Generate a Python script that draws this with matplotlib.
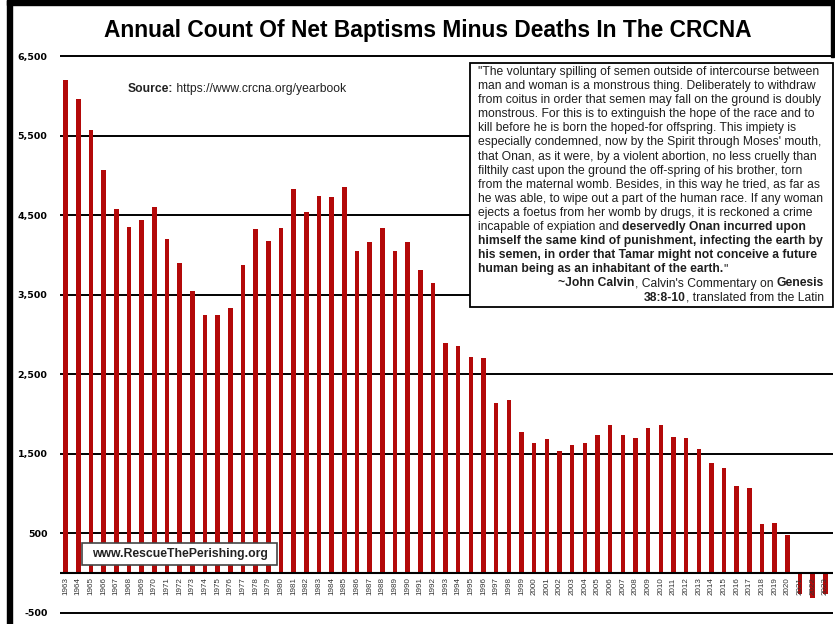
import matplotlib
matplotlib.use("Agg")
import matplotlib.pyplot as plt
from matplotlib.patches import Rectangle

W, H = 835, 624
FONT = ["Liberation Sans", "DejaVu Sans"]

years = list(range(1963, 2024))
net_counts = [
    6200, 5960, 5570, 5070, 4575, 4350, 4440, 4610, 4200, 3895,
    3550, 3245, 3245, 3335, 3875, 4330, 4175, 4345, 4825, 4540,
    4740, 4725, 4860, 4055, 4160, 4345, 4055, 4160, 3810, 3645,
    2895, 2860, 2720, 2700, 2135, 2170, 1775, 1640, 1690, 1535,
    1605, 1640, 1735, 1865, 1735, 1700, 1830, 1865, 1715, 1700,
    1555, 1385, 1325, 1095, 1075, 615, 630, 480, -270, -310, -260,
]

y_ticks = [-500, 500, 1500, 2500, 3500, 4500, 5500, 6500]
y_tick_labels = [f"{v:,}" for v in y_ticks]

TITLE = "Annual Count Of Net Baptisms Minus Deaths In The CRCNA"
SOURCE = [("Source:", True), (" https://www.crcna.org/yearbook", False)]
WEBSITE = "www.RescueThePerishing.org"

# quote, one entry per rendered line: (text, bold) segments
QUOTE_BODY = [
    [('"The voluntary spilling of semen outside of intercourse between', False)],
    [("man and woman is a monstrous thing. Deliberately to withdraw", False)],
    [("from coitus in order that semen may fall on the ground is doubly", False)],
    [("monstrous. For this is to extinguish the hope of the race and to", False)],
    [("kill before he is born the hoped-for offspring. This impiety is", False)],
    [("especially condemned, now by the Spirit through Moses' mouth,", False)],
    [("that Onan, as it were, by a violent abortion, no less cruelly than", False)],
    [("filthily cast upon the ground the off-spring of his brother, torn", False)],
    [("from the maternal womb. Besides, in this way he tried, as far as", False)],
    [("he was able, to wipe out a part of the human race. If any woman", False)],
    [("ejects a foetus from her womb by drugs, it is reckoned a crime", False)],
    [("incapable of expiation and ", False), ("deservedly Onan incurred upon", True)],
    [("himself the same kind of punishment, infecting the earth by", True)],
    [("his semen, in order that Tamar might not conceive a future", True)],
    [("human being as an inhabitant of the earth.", True), ('"', False)],
]
QUOTE_CREDIT = [
    [("~John Calvin", True), (", Calvin's Commentary on ", False), ("Genesis", True)],
    [("38:8-10", True), (", translated from the Latin", False)],
]


def fx(x):
    return x / W


def fy(y):
    return 1 - y / H


def seg_width(fig, rend, s, bold, size):
    kw = dict(fontsize=size, fontweight="bold" if bold else "normal", family=FONT)
    t1 = fig.text(0, 0, "|" + s + "|", **kw)
    t2 = fig.text(0, 0, "||", **kw)
    w = t1.get_window_extent(rend).width - t2.get_window_extent(rend).width
    t1.remove()
    t2.remove()
    return w


def rich_line(fig, rend, x, y, parts, size, color, align="left"):
    if align == "right":
        x -= sum(seg_width(fig, rend, s, b, size) for s, b in parts)
    for s, bold in parts:
        fig.text(fx(x), fy(y), s, ha="left", va="baseline", fontsize=size,
                 fontweight="bold" if bold else "normal", family=FONT,
                 color=color, zorder=6)
        x += seg_width(fig, rend, s, bold, size)


fig = plt.figure(figsize=(W / 100, H / 100), dpi=100)
rend = fig.canvas.get_renderer()

# axes: 0 sits at y=573 px, 1000 units = 79.5 px
ax = fig.add_axes([fx(60), fy(617.5), (833 - 60) / W, (617.5 - 51.5) / H])
x = list(range(len(years)))
ax.bar(x, net_counts, width=0.36, color="#b30909", zorder=2)
ax.set_xlim(-0.45, 60.6)
ax.set_ylim(-560, 6560)
ax.axhline(0, color="black", lw=1.5, zorder=3)

ax.set_yticks(y_ticks, y_tick_labels)
ax.tick_params(axis="y", length=0, pad=9)
for lab in ax.get_yticklabels():
    lab.set_fontfamily("DejaVu Sans")
    lab.set_fontweight("bold")
    lab.set_fontsize(6.8)
ax.set_xticks([])
ax.grid(axis="y", color="black", lw=1.4, zorder=1)
ax.set_axisbelow(True)
for sp in ax.spines.values():
    sp.set_visible(False)

for i, yr in enumerate(years):
    ax.text(i, -55, str(yr), rotation=90, ha="center", va="top",
            fontsize=5.8, color="#333333", family=FONT, zorder=4)

# frame borders of the original screenshot
fig.patches.append(Rectangle((fx(7), 0), 5 / W, 1, transform=fig.transFigure,
                             color="black", zorder=10))
fig.patches.append(Rectangle((fx(7), fy(5)), (834 - 7) / W, 5 / H,
                             transform=fig.transFigure, color="black", zorder=10))
fig.patches.append(Rectangle((fx(831), fy(57)), 3 / W, 57 / H,
                             transform=fig.transFigure, color="black", zorder=10))

fig.text(fx(428), fy(31), TITLE, ha="center", va="center", fontsize=16.4,
         fontweight="bold", family=FONT, color="black")

rich_line(fig, rend, 128, 92, SOURCE, 8.7, "#222222")

# quote box
fig.patches.append(Rectangle((fx(470), fy(307)), (833 - 470) / W, (307 - 63) / H,
                             transform=fig.transFigure, facecolor="white",
                             edgecolor="black", lw=1.3, zorder=5))
base = 75.0
pitch = 14.1
qsize = 8.7
for k, parts in enumerate(QUOTE_BODY):
    rich_line(fig, rend, 478, base + k * pitch, parts, qsize, "#1e1e1e")
for k, parts in enumerate(QUOTE_CREDIT):
    rich_line(fig, rend, 824, base + (len(QUOTE_BODY) + k) * pitch,
              parts, qsize, "#1e1e1e", align="right")

# website box
fig.patches.append(Rectangle((fx(82), fy(565)), (277 - 82) / W, (565 - 543) / H,
                             transform=fig.transFigure, facecolor="white",
                             edgecolor="#444444", lw=1.2, zorder=5))
fig.text(fx(179.5), fy(554), WEBSITE, ha="center", va="center", fontsize=8.85,
         fontweight="bold", family=FONT, color="#222222", zorder=6)

fig.savefig("out.png", dpi=100)
